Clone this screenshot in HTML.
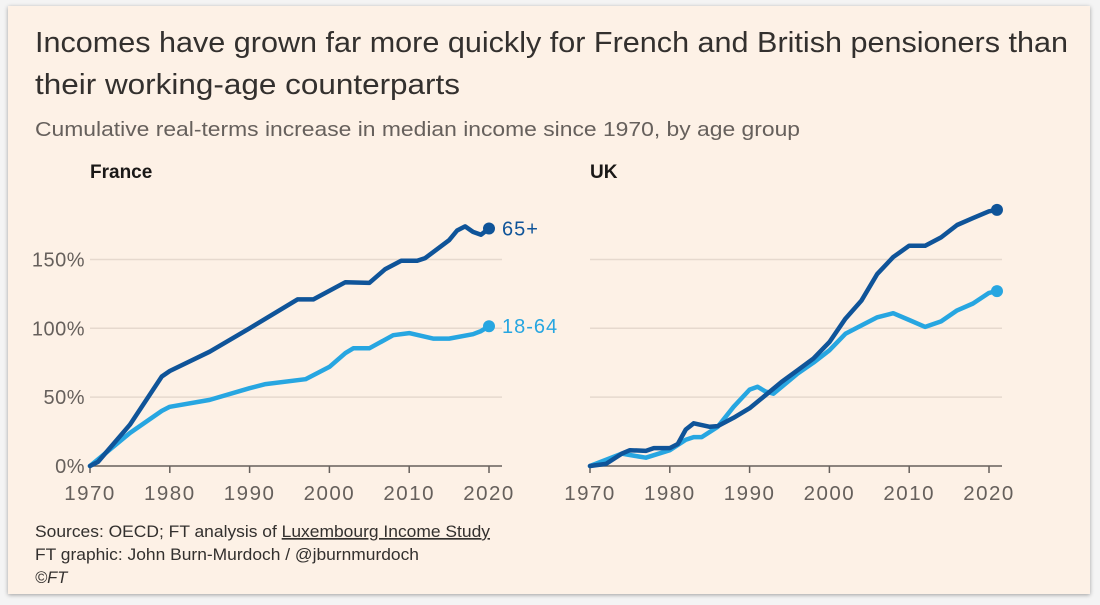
<!DOCTYPE html>
<html><head><meta charset="utf-8">
<style>
html,body{margin:0;padding:0;width:1100px;height:605px;background:#f4f4f4;overflow:hidden;font-family:"Liberation Sans",sans-serif}
#card{position:absolute;left:8px;top:6px;width:1082px;height:588px;background:#fdf1e6;box-shadow:0 1px 4px rgba(0,0,0,0.35)}
</style></head><body>
<div id="card"></div>
<svg id="chart" width="1100" height="605" style="position:absolute;left:0;top:0">
<text x="35" y="52" font-size="29" fill="#33302e" textLength="1033" lengthAdjust="spacingAndGlyphs">Incomes have grown far more quickly for French and British pensioners than</text>
<text x="35" y="94" font-size="29" fill="#33302e" textLength="425" lengthAdjust="spacingAndGlyphs">their working-age counterparts</text>
<text x="35" y="136" font-size="20" fill="#66605c" textLength="765" lengthAdjust="spacingAndGlyphs">Cumulative real-terms increase in median income since 1970, by age group</text>
<text x="35" y="537" font-size="16.5" fill="#33302e" textLength="455" lengthAdjust="spacingAndGlyphs">Sources: OECD; FT analysis of <tspan text-decoration="underline">Luxembourg Income Study</tspan></text>
<text x="35" y="560" font-size="16.5" fill="#33302e" textLength="384" lengthAdjust="spacingAndGlyphs">FT graphic: John Burn-Murdoch / @jburnmurdoch</text>
<text x="35" y="583" font-size="16.5" fill="#33302e" font-style="italic">©FT</text>
<g id="plots"></g>
</svg>
<script>
const yTicks = [0, 50, 100, 150];
const yTickLabels = ["0%", "50%", "100%", "150%"];
const xTicks = [1970, 1980, 1990, 2000, 2010, 2020];
const franceOldYears = [1970,1971,1975,1979,1980,1985,1990,1996,1998,2002,2005,2007,2009,2011,2012,2015,2016,2017,2018,2019,2020];
const franceOldValues = [0,3,30,65,69,83,100,121,121,133.5,133,143,149,149,151,164,171,174,170,168,172.5];
const franceYoungYears = [1970,1975,1979,1980,1985,1990,1992,1997,2000,2002,2003,2005,2008,2010,2013,2015,2018,2019,2020];
const franceYoungValues = [0,24,40,43,48,56.5,59.5,63,72,82,85.5,85.5,95,96.5,92.5,92.5,95.7,98,101.5];
const ukOldYears = [1970,1972,1974,1975,1977,1978,1980,1981,1982,1983,1985,1986,1988,1990,1992,1994,1996,1998,2000,2002,2004,2006,2008,2010,2012,2014,2016,2018,2020,2021];
const ukOldValues = [0,1.5,9,11.5,11,13,13,16,26.5,31,28.5,29,35,42,51.5,61,69.5,78,90,107,120,139.5,151.7,160,160,166,175,180,185,186];
const ukYoungYears = [1970,1974,1976,1977,1980,1982,1983,1984,1986,1988,1990,1991,1992,1993,1996,1998,2000,2002,2004,2006,2008,2010,2012,2014,2016,2018,2020,2021];
const ukYoungValues = [0,9,7,6,11.5,19,21,21,28.5,43,55.5,57.5,54,52.5,67,75,84,96,102,108,111,106,101,105,113,118,125.7,127];

const NS='http://www.w3.org/2000/svg';
const DARK='#0f5499', LIGHT='#27a6e1';
const g=document.getElementById('plots');
function mk(tag,attrs){const e=document.createElementNS(NS,tag);for(const k in attrs)e.setAttribute(k,attrs[k]);return e;}
function panel(name,x0,title,series,showY,labels){
  const xs=y=>x0+(y-1970)*7.98;
  const ys=v=>466-v*1.377;
  const t=mk('text',{x:x0,y:178,'font-size':19,'font-weight':'bold',fill:'#1a1817'});t.textContent=title;
  
  
  g.appendChild(t);
  yTicks.forEach((v,i)=>{
    if(v>0){const l=mk('line',{x1:x0,x2:x0+412,y1:ys(v),y2:ys(v),stroke:'#e6d9ce','stroke-width':1.5});
      
      
      g.appendChild(l);}
    if(showY){const tx=mk('text',{x:x0-5,y:ys(v)+7,'font-size':20,'text-anchor':'end',fill:'#66605c','letter-spacing':0.5});tx.textContent=yTickLabels[i];
      
      
      g.appendChild(tx);}
  });
  const ax=mk('line',{x1:x0,x2:x0+412,y1:466,y2:466,stroke:'#66605c','stroke-width':1.5});
  
  
  g.appendChild(ax);
  xTicks.forEach(yr=>{
    const tk=mk('line',{x1:xs(yr),x2:xs(yr),y1:466,y2:473,stroke:'#66605c','stroke-width':1.5});
    
    
    g.appendChild(tk);
    const tx=mk('text',{x:xs(yr),y:500,'font-size':20.5,'text-anchor':'middle',fill:'#66605c','letter-spacing':1.5});tx.textContent=yr;
    
    
    g.appendChild(tx);
  });
  series.forEach(s=>{
    const d=s.yrs.map((yr,i)=>(i?'L':'M')+xs(yr).toFixed(1)+','+ys(s.vals[i]).toFixed(1)).join(' ');
    const p=mk('path',{d:d,fill:'none',stroke:s.c,'stroke-width':4.5,'stroke-linejoin':'round','stroke-linecap':'round'});
    
    
    g.appendChild(p);
    const n=s.yrs.length-1;
    const c=mk('circle',{cx:xs(s.yrs[n]),cy:ys(s.vals[n]),r:6,fill:s.c});
    
    
    g.appendChild(c);
    if(labels){const tx=mk('text',{x:xs(s.yrs[n])+13,y:ys(s.vals[n])+7,'font-size':20,fill:s.c,'letter-spacing':1});tx.textContent=s.label;
      
      
      g.appendChild(tx);}
  });
}
panel('france',90,'France',[{yrs:franceYoungYears,vals:franceYoungValues,c:LIGHT,n:'18-64',label:'18-64'},{yrs:franceOldYears,vals:franceOldValues,c:DARK,n:'65plus',label:'65+'}],true,true);
panel('uk',590,'UK',[{yrs:ukYoungYears,vals:ukYoungValues,c:LIGHT,n:'18-64',label:'18-64'},{yrs:ukOldYears,vals:ukOldValues,c:DARK,n:'65plus',label:'65+'}],false,false);
</script>
</body></html>
